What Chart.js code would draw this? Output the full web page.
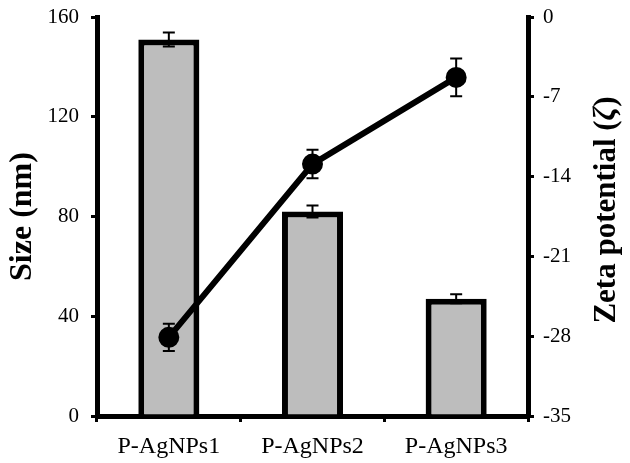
<!DOCTYPE html>
<html>
<head>
<meta charset="utf-8">
<script src="https://cdn.jsdelivr.net/npm/chart.js@4.4.1/dist/chart.umd.min.js"></script>
<style>
  html, body { margin: 0; padding: 0; background: #fff; }
  #wrap { width: 630px; height: 463px; }
</style>
</head>
<body>
<div id="wrap"><canvas id="chart"></canvas></div>
<script>
// data
var muestras = ['P-AgNPs1', 'P-AgNPs2', 'P-AgNPs3'];
var tamano = [151, 82, 47];          // size (nm)
var tamanoErr = [2.8, 2.4, 1.8];
var zeta = [-28.1, -12.9, -5.3];     // zeta potential
var zetaErr = [1.2, 1.25, 1.65];

var serif = "'Liberation Serif', 'Times New Roman', serif";

// error bars, drawn from the scales
var barrasError = {
  id: 'barrasError',
  afterDatasetsDraw: function (chart) {
    var ctx = chart.ctx;
    var x = chart.scales.x;
    var pares = [
      { vals: tamano, errs: tamanoErr, eje: chart.scales.y },
      { vals: zeta, errs: zetaErr, eje: chart.scales.y1 }
    ];
    ctx.save();
    ctx.strokeStyle = '#000';
    ctx.lineWidth = 2;
    pares.forEach(function (p) {
      p.vals.forEach(function (v, i) {
        var px = x.getPixelForValue(i);
        var y1 = p.eje.getPixelForValue(v + p.errs[i]);
        var y2 = p.eje.getPixelForValue(v - p.errs[i]);
        ctx.beginPath();
        ctx.moveTo(px, y1); ctx.lineTo(px, y2);
        ctx.moveTo(px - 6, y1); ctx.lineTo(px + 6, y1);
        ctx.moveTo(px - 6, y2); ctx.lineTo(px + 6, y2);
        ctx.stroke();
      });
    });
    ctx.restore();
  }
};

// right axis title reads bottom-to-top in the original
var tituloDerecho = {
  id: 'tituloDerecho',
  afterDraw: function (chart) {
    var ctx = chart.ctx;
    var tam = 31;
    ctx.save();
    ctx.translate(607, 210);
    ctx.rotate(-Math.PI / 2);
    ctx.fillStyle = '#000';
    ctx.textBaseline = 'middle';
    ctx.textAlign = 'left';
    var a = 'Zeta potential (', b = 'ζ', c = ')';
    ctx.font = 'bold ' + tam + 'px ' + serif;
    var wa = ctx.measureText(a).width;
    var wc = ctx.measureText(c).width;
    ctx.font = 'bold italic ' + tam + 'px ' + serif;
    var wb = ctx.measureText(b).width;
    var x0 = -(wa + wb + wc) / 2;
    ctx.font = 'bold ' + tam + 'px ' + serif;
    ctx.fillText(a, x0, 0);
    ctx.fillText(c, x0 + wa + wb, 0);
    ctx.font = 'bold italic ' + tam + 'px ' + serif;
    ctx.fillText(b, x0 + wa, 0);
    ctx.restore();
  }
};

var ejeGrid = {
  display: true,
  drawOnChartArea: false,
  drawTicks: true,
  tickLength: 6,
  tickWidth: 3,
  color: '#000',
  lineWidth: 3
};

// keep the plot area where the figure has it
function ajusteY(ancho) {
  return function (s) {
    s.width = ancho;
    s.paddingTop = 0;
    s.paddingBottom = 0;
  };
}

new Chart(document.getElementById('chart').getContext('2d'), {
  data: {
    labels: muestras,
    datasets: [
      {
        type: 'line',
        label: 'Zeta',
        data: zeta,
        yAxisID: 'y1',
        borderColor: '#000',
        backgroundColor: '#000',
        borderWidth: 6,
        pointRadius: 7.5,
        pointBackgroundColor: '#000',
        pointBorderColor: '#000',
        tension: 0,
        order: 0
      },
      {
        type: 'bar',
        label: 'Size',
        data: tamano,
        yAxisID: 'y',
        backgroundColor: '#bdbdbd',
        borderColor: '#000',
        borderWidth: 6,
        barPercentage: 0.425,
        categoryPercentage: 1,
        order: 1
      }
    ]
  },
  options: {
    responsive: true,
    maintainAspectRatio: false,
    animation: false,
    layout: { padding: { top: 17, left: 0, right: 0, bottom: 0 } },
    plugins: {
      legend: { display: false },
      tooltip: { enabled: false }
    },
    scales: {
      x: {
        grid: Object.assign({}, ejeGrid, { offset: true }),
        border: { display: true, color: '#000', width: 5 },
        ticks: { color: '#000', font: { family: serif, size: 24 }, padding: 10 },
        afterFit: function (s) { s.height = 47; s.paddingLeft = 0; s.paddingRight = 0; }
      },
      y: {
        position: 'left',
        min: 0,
        max: 160,
        grid: ejeGrid,
        border: { display: true, color: '#000', width: 5 },
        ticks: { stepSize: 40, color: '#000', font: { family: serif, size: 21 }, padding: 12 },
        title: {
          display: true,
          text: 'Size (nm)',
          color: '#000',
          font: { family: serif, size: 32, weight: 'bold' },
          padding: { top: 4, bottom: 0 }
        },
        afterFit: ajusteY(97)
      },
      y1: {
        position: 'right',
        min: -35,
        max: 0,
        grid: ejeGrid,
        border: { display: true, color: '#000', width: 5 },
        ticks: { stepSize: 7, color: '#000', font: { family: serif, size: 21 }, padding: 9 },
        afterFit: ajusteY(102)
      }
    }
  },
  plugins: [barrasError, tituloDerecho]
});
</script>
</body>
</html>
